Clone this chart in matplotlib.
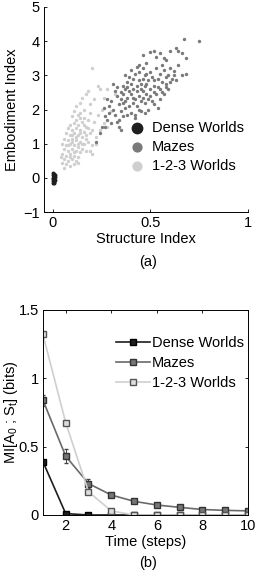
import matplotlib
matplotlib.use('Agg')
import matplotlib.pyplot as plt
import numpy as np

plt.rcParams['font.family'] = ['Liberation Sans', 'DejaVu Sans']
plt.rcParams['font.size'] = 10.5
plt.rcParams['xtick.direction'] = 'in'
plt.rcParams['ytick.direction'] = 'in'
plt.rcParams['mathtext.fontset'] = 'custom'
plt.rcParams['mathtext.rm'] = 'Liberation Sans'
plt.rcParams['mathtext.it'] = 'Liberation Sans'

# (a) scatter: structure index vs embodiment index
dense_x = [0.0, 0.005, 0.01, 0.0, 0.005, 0.01, 0.0, 0.008, 0.003, 0.01, 0.0, 0.006, 0.002, 0.009, 0.004, 0.007]
dense_y = [-0.15, -0.1, -0.05, 0.0, 0.05, 0.1, 0.15, -0.12, 0.08, 0.02, -0.08, 0.12, -0.03, 0.06, -0.14, 0.0]

mazes_pts = [
    (0.67, 4.05), (0.75, 4.00), (0.63, 3.80), (0.64, 3.72), (0.66, 3.65), (0.68, 3.50), (0.60, 3.70),
    (0.52, 3.70), (0.50, 3.68), (0.55, 3.65), (0.46, 3.60), (0.58, 3.45), (0.48, 3.35), (0.44, 3.30),
    (0.43, 3.25), (0.53, 3.55), (0.57, 3.50), (0.66, 3.00), (0.68, 3.05), (0.62, 3.12), (0.60, 3.20),
    (0.64, 3.30), (0.61, 2.90), (0.58, 2.75), (0.59, 2.60), (0.55, 2.30), (0.57, 2.45), (0.54, 2.05),
    (0.52, 2.15), (0.50, 2.40), (0.49, 2.00), (0.47, 2.20), (0.45, 1.95), (0.42, 1.75), (0.46, 2.55),
    (0.35, 2.50), (0.36, 2.70), (0.38, 2.80), (0.37, 2.60), (0.40, 2.75), (0.41, 2.90), (0.42, 3.05),
    (0.39, 2.95), (0.43, 2.70), (0.44, 2.85), (0.45, 2.60), (0.46, 2.90), (0.47, 3.00), (0.48, 2.75),
    (0.49, 2.85), (0.50, 3.10), (0.51, 2.95), (0.52, 2.70), (0.53, 3.20), (0.54, 2.90), (0.55, 3.05),
    (0.56, 2.80), (0.57, 3.15), (0.58, 2.95), (0.52, 2.50), (0.50, 2.60), (0.48, 2.45), (0.46, 2.35),
    (0.44, 2.40), (0.42, 2.30), (0.40, 2.45), (0.38, 2.35), (0.36, 2.20), (0.34, 2.15), (0.33, 2.40),
    (0.35, 1.95), (0.37, 2.05), (0.39, 2.10), (0.41, 2.20), (0.43, 2.10), (0.45, 2.25), (0.40, 1.90),
    (0.38, 1.85), (0.36, 1.80), (0.34, 1.70), (0.33, 1.65), (0.32, 1.85), (0.31, 2.00), (0.30, 2.25),
    (0.32, 2.55), (0.31, 2.75), (0.33, 2.65), (0.37, 3.00), (0.40, 3.15), (0.41, 2.60), (0.43, 2.55),
    (0.47, 2.70), (0.49, 2.30), (0.51, 2.25), (0.53, 2.45), (0.55, 2.60), (0.56, 2.50), (0.58, 2.65),
    (0.60, 2.80), (0.62, 3.00), (0.44, 3.10), (0.46, 3.20), (0.48, 3.05), (0.39, 2.55), (0.35, 2.30),
    (0.30, 1.60), (0.28, 1.70), (0.27, 1.50), (0.25, 1.50), (0.29, 1.90), (0.26, 2.05), (0.28, 2.30),
    (0.34, 1.50), (0.35, 1.40), (0.42, 1.85), (0.44, 2.00), (0.22, 1.05), (0.24, 1.30), (0.36, 2.45),
    (0.38, 2.65), (0.29, 2.10), (0.27, 1.80), (0.47, 1.90), (0.52, 2.85), (0.54, 2.65), (0.56, 3.30),
    (0.59, 3.00), (0.63, 2.85), (0.45, 2.75), (0.41, 2.35), (0.37, 2.25),
]

worlds123_pts = [
    (0.20, 3.22), (0.15, 2.35), (0.17, 2.45), (0.18, 2.55), (0.14, 2.20), (0.12, 2.10), (0.16, 2.00),
    (0.19, 2.15), (0.21, 2.30), (0.24, 2.60), (0.28, 2.60), (0.23, 2.70), (0.11, 1.95), (0.13, 1.85),
    (0.10, 1.80), (0.12, 1.70), (0.14, 1.75), (0.09, 1.55), (0.11, 1.60), (0.13, 1.55), (0.15, 1.65),
    (0.17, 1.50), (0.08, 1.45), (0.10, 1.40), (0.12, 1.45), (0.14, 1.40), (0.16, 1.35), (0.18, 1.45),
    (0.19, 1.30), (0.07, 1.30), (0.09, 1.25), (0.11, 1.30), (0.13, 1.25), (0.15, 1.20), (0.17, 1.15),
    (0.06, 1.15), (0.08, 1.10), (0.10, 1.15), (0.12, 1.10), (0.14, 1.05), (0.16, 1.00), (0.18, 1.05),
    (0.05, 1.00), (0.07, 0.95), (0.09, 1.00), (0.11, 0.95), (0.13, 0.90), (0.15, 0.85), (0.17, 0.80),
    (0.19, 0.80), (0.06, 0.85), (0.08, 0.80), (0.10, 0.85), (0.12, 0.80), (0.14, 0.75), (0.05, 0.70),
    (0.07, 0.65), (0.09, 0.70), (0.11, 0.65), (0.13, 0.60), (0.06, 0.55), (0.08, 0.50), (0.10, 0.55),
    (0.12, 0.50), (0.07, 0.40), (0.09, 0.35), (0.11, 0.40), (0.06, 0.30), (0.20, 0.70), (0.20, 0.95),
    (0.22, 1.20), (0.24, 1.40), (0.26, 1.60), (0.28, 1.50), (0.21, 1.65), (0.23, 1.85), (0.25, 2.00),
    (0.19, 1.90), (0.16, 1.75), (0.10, 1.25), (0.12, 1.20), (0.14, 1.30), (0.08, 0.95), (0.10, 1.05),
    (0.15, 1.00), (0.09, 0.60), (0.11, 0.75), (0.13, 1.00), (0.17, 1.25), (0.16, 1.55), (0.18, 1.70),
    (0.14, 1.90), (0.20, 1.40), (0.22, 1.00), (0.04, 0.60), (0.05, 0.45), (0.13, 0.45), (0.30, 1.95),
    (0.26, 2.35), (0.32, 2.45),
]

# (b) mutual information over time
steps = [1, 2, 3, 4, 5, 6, 7, 8, 9, 10]
mi_dense = [0.39, 0.01, 0.0, 0.0, 0.0, 0.0, 0.0, 0.0, 0.0, 0.0]
mi_mazes = [0.84, 0.43, 0.23, 0.146, 0.10, 0.073, 0.056, 0.04, 0.034, 0.03]
mi_mazes_err = [0.04, 0.05, 0.03, 0.01, 0.01, 0.005, 0.005, 0.005, 0.005, 0.005]
mi_123 = [1.32, 0.675, 0.17, 0.03, 0.0, 0.0, 0.0, 0.0, 0.0, 0.0]

c_dense, c_maze, c_123 = '#1e1e1e', '#7a7a7a', '#cfcfcf'

fig = plt.figure(figsize=(2.57, 5.78), dpi=100)

# ---- (a)
ax1 = fig.add_axes([0.171, 0.633, 0.794, 0.355])
w = np.array(worlds123_pts)
m = np.array(mazes_pts)
ax1.scatter(w[:, 0], w[:, 1], s=6, color=c_123, linewidths=0, label='1-2-3 Worlds')
ax1.scatter(m[:, 0], m[:, 1], s=6, color=c_maze, linewidths=0, label='Mazes')
ax1.scatter(dense_x, dense_y, s=8, color=c_dense, linewidths=0, label='Dense Worlds')
ax1.set_xlim(-0.045, 1)
ax1.set_ylim(-1, 5)
ax1.set_xticks([0, 0.5, 1])
ax1.set_xticklabels(['0', '0.5', '1'])
ax1.set_yticks(range(-1, 6))
ax1.set_yticklabels(['\u22121', '0', '1', '2', '3', '4', '5'])
ax1.spines['top'].set_visible(False)
ax1.spines['right'].set_visible(False)
ax1.tick_params(length=2.5, width=0.6, pad=3)
for s in ax1.spines.values():
    s.set_linewidth(0.7)
ax1.set_xlabel('Structure Index', labelpad=1)
ax1.set_ylabel('Embodiment Index', labelpad=3)
h, l = ax1.get_legend_handles_labels()
ax1.legend(h[::-1], l[::-1], loc='lower right', bbox_to_anchor=(1.03, 0.14), frameon=False,
           markerscale=3.0, handletextpad=0.0, labelspacing=0.35, borderpad=0.2, fontsize=10.5)
fig.text(0.575, 0.547, '(a)', ha='center', va='center', fontsize=10.5)

# ---- (b)
ax2 = fig.add_axes([0.167, 0.109, 0.798, 0.355])
ax2.errorbar(steps, mi_mazes, yerr=mi_mazes_err, fmt='none', ecolor='#444444',
             elinewidth=0.7, capsize=1.5)
ax2.plot(steps, mi_dense, color=c_dense, marker='s', ms=5, mfc='#1e1e1e', mec='#000000',
         lw=1.2, label='Dense Worlds')
ax2.plot(steps, mi_mazes, color='#6a6a6a', marker='s', ms=5, mfc='#777777',
         mec='#333333', lw=1.2, label='Mazes')
ax2.plot(steps, mi_123, color=c_123, marker='s', ms=5, mfc='#dddddd', mec='#555555',
         lw=1.2, label='1-2-3 Worlds')
ax2.set_xlim(1, 10)
ax2.set_ylim(0, 1.5)
ax2.set_xticks([2, 4, 6, 8, 10])
ax2.set_yticks([0, 0.5, 1, 1.5])
ax2.set_yticklabels(['0', '0.5', '1', '1.5'])
ax2.tick_params(length=2.5, width=0.6, top=True, right=True, pad=3)
for s in ax2.spines.values():
    s.set_linewidth(0.7)
ax2.set_xlabel('Time (steps)', labelpad=1)
fig.text(11 / 257, 0.286, 'MI[A$_0$ ; S$_t$] (bits)', rotation=90, ha='center', va='center',
         fontsize=10.5)
h, l = ax2.get_legend_handles_labels()
ax2.legend(h, l, loc='upper right', bbox_to_anchor=(1.03, 0.92), frameon=False,
           handlelength=2.3, handletextpad=0.15, labelspacing=0.4, borderpad=0.2, fontsize=10.5)
fig.text(0.575, 0.026, '(b)', ha='center', va='center', fontsize=10.5)

fig.savefig('out.png', dpi=100)
